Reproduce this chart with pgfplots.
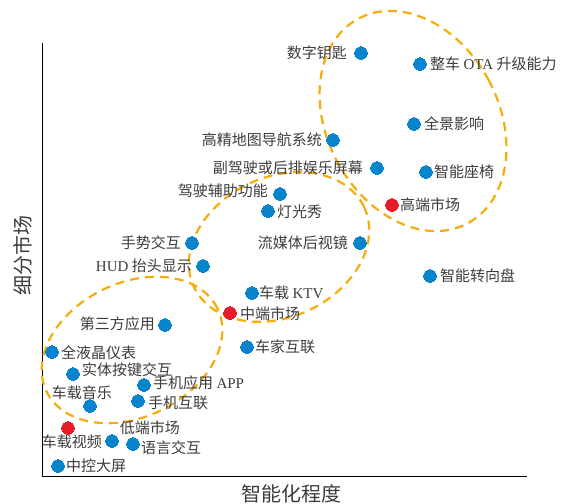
\documentclass[border=0pt]{standalone}
\usepackage{pgfplots}
\pgfplotsset{compat=1.18}
\usepackage{fontspec}
\setmainfont{Liberation Serif}
\newfontfamily\cjk{Noto Sans CJK SC}
\newfontfamily\lat{Liberation Serif}
\definecolor{dotblue}{RGB}{8,132,204}
\definecolor{dotred}{RGB}{232,28,40}
\definecolor{ringorange}{RGB}{246,172,10}
\definecolor{txt}{RGB}{60,60,60}
\tikzset{
  lbl/.style={font=\cjk\fontsize{15}{18}\selectfont, text=txt, inner sep=0pt},
  ring/.style={draw=ringorange, line width=2.2pt, dash pattern=on 9pt off 6pt},
}
\begin{document}
\begin{tikzpicture}
\begin{axis}[
  x=1pt, y=1pt,
  xmin=42, xmax=527, ymin=28, ymax=461,
  axis lines=left,
  axis line style={-, black, line width=0.9pt},
  xtick=\empty, ytick=\empty,
  clip=false,
]
% corners of the picture frame
\coordinate (BL) at (axis cs:0,0);
\coordinate (TR) at (axis cs:566,504);

% ellipses
\draw[ring, rotate around={28:(axis cs:413,383)}] (axis cs:413,383) ellipse [x radius=86pt, y radius=116pt];
\draw[ring, rotate around={25:(axis cs:279,257)}] (axis cs:279,257) ellipse [x radius=94pt, y radius=70pt];
\draw[ring, rotate around={26:(axis cs:132,154)}] (axis cs:132,154) ellipse [x radius=95pt, y radius=67pt];

% blue points
\addplot[only marks, mark=*, mark size=6.3pt, mark options={fill=dotblue, draw=dotblue, line width=0pt}] coordinates {
(361,451) (420,440) (414,380) (333,364) (377,336) (426,332)
(280,310) (268,293) (192,261) (360,261) (203,238) (430,228)
(252,211) (165,179) (247,157) (52,152) (73,130) (144,119)
(90,98) (138,103) (112,63) (133,60) (58,38)
};
% red points (market centres)
\addplot[only marks, mark=*, mark size=6.3pt, mark options={fill=dotred, draw=dotred, line width=0pt}] coordinates {
(392,299) (230,191) (68,76)
};

% labels
\node[lbl, anchor=east] at (axis cs:347,451) {数字钥匙};
\node[lbl, anchor=west] at (axis cs:430,440) {整车 {\lat OTA} 升级能力};
\node[lbl, anchor=west] at (axis cs:424,380) {全景影响};
\node[lbl, anchor=east] at (axis cs:322,364) {高精地图导航系统};
\node[lbl, anchor=east] at (axis cs:363,336) {副驾驶或后排娱乐屏幕};
\node[lbl, anchor=west] at (axis cs:434,332) {智能座椅};
\node[lbl, anchor=west] at (axis cs:400,299) {高端市场};
\node[lbl, anchor=east] at (axis cs:268,313) {驾驶辅助功能};
\node[lbl, anchor=west] at (axis cs:277,292) {灯光秀};
\node[lbl, anchor=east] at (axis cs:181,261) {手势交互};
\node[lbl, anchor=east] at (axis cs:348,261) {流媒体后视镜};
\node[lbl, anchor=east] at (axis cs:192,238) {{\lat HUD} 抬头显示};
\node[lbl, anchor=west] at (axis cs:440,228) {智能转向盘};
\node[lbl, anchor=west] at (axis cs:259,211) {车载 {\lat KTV}};
\node[lbl, anchor=west] at (axis cs:240,190) {中端市场};
\node[lbl, anchor=east] at (axis cs:155,180) {第三方应用};
\node[lbl, anchor=west] at (axis cs:255,157) {车家互联};
\node[lbl, anchor=west] at (axis cs:61,151) {全液晶仪表};
\node[lbl, anchor=west] at (axis cs:82,134) {实体按键交互};
\node[lbl, anchor=west] at (axis cs:153,121) {手机应用 {\lat APP}};
\node[lbl] at (axis cs:82,111) {车载音乐};
\node[lbl, anchor=west] at (axis cs:148,101) {手机互联};
\node[lbl] at (axis cs:150,76) {低端市场};
\node[lbl, anchor=east] at (axis cs:102,62) {车载视频};
\node[lbl, anchor=west] at (axis cs:141,56) {语言交互};
\node[lbl, anchor=west] at (axis cs:66,38) {中控大屏};

% axis titles
\node[font=\cjk\fontsize{20}{24}\selectfont, text=txt, rotate=90, inner sep=0pt] at (axis cs:23,248) {细分市场};
\node[font=\cjk\fontsize{20}{24}\selectfont, text=txt, inner sep=0pt] at (axis cs:292,10) {智能化程度};
\end{axis}
\pgfresetboundingbox
\path (BL) rectangle (TR);
\end{tikzpicture}
\end{document}
